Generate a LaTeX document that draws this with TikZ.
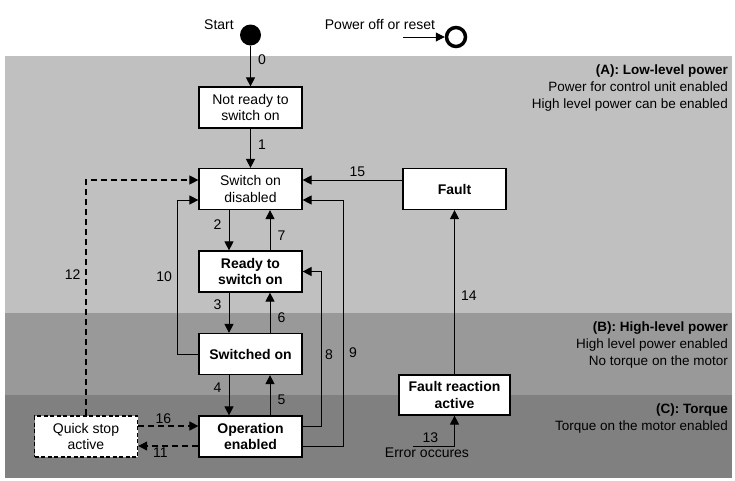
\documentclass[tikz,border=0pt]{standalone}
\usepackage{fontspec}
\setmainfont{Liberation Sans}
\definecolor{lowpow}{HTML}{C0C0C0}
\definecolor{highpow}{HTML}{999999}
\definecolor{torque}{HTML}{808080}
\usetikzlibrary{arrows.meta, positioning, calc}
\tikzset{
  state/.style={draw, fill=white, line width=1.2pt, align=center, minimum width=103pt,
                minimum height=41pt, inner sep=2pt, font=\fontsize{14}{16.5}\selectfont},
  bstate/.style={state, font=\fontsize{14}{16.5}\selectfont\bfseries},
  qstate/.style={state, line width=1.4pt, dash pattern=on 4pt off 2.5pt},
  trans/.style={-{Triangle[length=9pt,width=9pt]}, line width=1pt},
  qtrans/.style={trans, line width=1.1pt, dash pattern=on 6pt off 4pt},
  lbl/.style={font=\fontsize{14}{16}\selectfont, inner xsep=7pt, inner ysep=3pt},
  zone/.style={font=\fontsize{13.5}{17}\selectfont, align=right, anchor=north east, inner sep=0pt},
}
\begin{document}
\begin{tikzpicture}[x=1pt,y=-1pt]
  \useasboundingbox (0,0) rectangle (735,480);
  % power zones
  \fill[lowpow] (5,56) rectangle (732,313);
  \fill[highpow] (5,313) rectangle (732,395);
  \fill[torque] (5,395) rectangle (732,478);
  \node[zone] (zoneA) at (728,65) {\textbf{(A): Low-level power}\\Power for control unit enabled\\High level power can be enabled};
  \node[zone] (zoneB) at (728,322) {\textbf{(B): High-level power}\\High level power enabled\\No torque on the motor};
  \node[zone] (zoneC) at (728,404) {\textbf{(C): Torque}\\Torque on the motor enabled};

  % start and reset
  \node[circle, fill=black, minimum size=21pt, inner sep=0pt] (start) at (250.5,35) {};
  \node[lbl] (starttext) at (219,25) {Start};
  \node[circle, draw, line width=3.5pt, minimum size=19pt, inner sep=0pt] (stop) at (456,37) {};
  \node[lbl] (pofftext) at (380,24) {Power off or reset};
  \coordinate (poff) at (403,37);
  \draw[trans] (poff) -- (stop);

  % states
  \node[state] (notready) at (250.5,107.5) {Not ready to\\switch on};
  \node[state] (sod) at (250.5,189) {Switch on\\disabled};
  \node[bstate] (ready) at (250.5,271.5) {Ready to\\switch on};
  \node[bstate] (swon) at (250.5,354) {Switched on};
  \node[bstate] (open) at (250.5,436.5) {Operation\\enabled};
  \node[qstate] (qsa) at (86,436.5) {Quick stop\\active};
  \node[bstate] (fault) at (454.5,189) {Fault};
  \node[bstate, minimum width=111pt, minimum height=40pt] (fra) at (454.5,395) {Fault reaction\\active};

  % transitions
  \draw[trans] (start) -- node[lbl,right,pos=.35]{0} (notready);
  \draw[trans] (notready) -- node[lbl,right,pos=.4]{1} (sod);
  \draw[trans] ([xshift=-21.5pt]sod.south) -- node[lbl,left,pos=.35]{2} ([xshift=-21.5pt]ready.north);
  \draw[trans] ([xshift=-21.5pt]ready.south) -- node[lbl,left,pos=.3]{3} ([xshift=-21.5pt]swon.north);
  \draw[trans] ([xshift=-21.5pt]swon.south) -- node[lbl,left,pos=.3]{4} ([xshift=-21.5pt]open.north);
  \draw[trans] ([xshift=19.5pt]open.north) -- node[lbl,right,pos=.4]{5} ([xshift=19.5pt]swon.south);
  \draw[trans] ([xshift=19.5pt]swon.north) -- node[lbl,right,pos=.37]{6} ([xshift=19.5pt]ready.south);
  \draw[trans] ([xshift=19.5pt]ready.north) -- node[lbl,right,pos=.37]{7} ([xshift=19.5pt]sod.south);
  \draw[trans] ([yshift=10.5pt]open.east) -- ++(19,0) |- node[lbl,right,pos=.23,inner xsep=3pt]{8} (ready.east);
  \draw[trans] ([yshift=-9.5pt]open.east) -- ++(41,0) |- node[lbl,right,pos=.19,inner xsep=5pt]{9} ([yshift=-11pt]sod.east);
  \draw[trans] (swon.west) -- ++(-21,0) |- node[lbl,left,pos=.25,inner xsep=5pt]{10} ([yshift=-11pt]sod.west);
  \draw[qtrans] ([yshift=-9.5pt]open.west) -- node[lbl,below,pos=.63,inner ysep=1pt]{11} ([yshift=-9.5pt]qsa.east);
  \draw[qtrans] (qsa.north) |- node[lbl,left,pos=.3,inner xsep=5pt]{12} ([yshift=9pt]sod.west);
  \coordinate (err) at (413,446);
  \draw[trans] (err) -| node[lbl,above,pos=.21,inner ysep=3pt]{13} (fra.south);
  \node[lbl, anchor=north, inner ysep=1pt] (errtext) at ([xshift=14pt,yshift=-1pt]err) {Error occures};
  \draw[trans] (fra) -- node[lbl,right,pos=.48,inner xsep=6pt]{14} (fault);
  \draw[trans] ([yshift=9pt]fault.west) -- node[lbl,above,pos=.45]{15} ([yshift=9pt]sod.east);
  \draw[qtrans] ([yshift=10.5pt]qsa.east) -- node[lbl,above,pos=.42,inner ysep=2pt]{16} ([yshift=10.5pt]open.west);
\end{tikzpicture}
\end{document}
